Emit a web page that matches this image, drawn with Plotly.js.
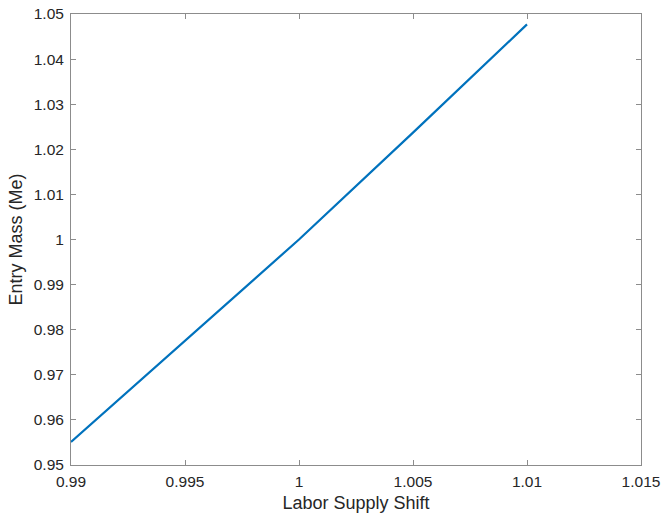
<!DOCTYPE html>
<html><head><meta charset="utf-8">
<script src="https://cdn.plot.ly/plotly-3.0.1.min.js"></script>
<style>html,body{margin:0;padding:0;background:#fff}</style>
</head><body>
<div id="chart" style="width:665px;height:514px"></div>
<script>
const laborShift = [0.99, 0.995, 1.0, 1.005, 1.01];
const entryMass = [0.9551, 0.9775, 1.0, 1.0237, 1.0477];
const xTicks = [0.99, 0.995, 1, 1.005, 1.01, 1.015];
const xTickText = ['0.99', '0.995', '1', '1.005', '1.01', '1.015'];
const yTicks = [0.95, 0.96, 0.97, 0.98, 0.99, 1, 1.01, 1.02, 1.03, 1.04, 1.05];
const yTickText = ['0.95', '0.96', '0.97', '0.98', '0.99', '1', '1.01', '1.02', '1.03', '1.04', '1.05'];

const font = 'Liberation Sans, Arial, Helvetica, sans-serif';
const axisCommon = {
  showline: true, linecolor: '#8c8c8c', linewidth: 1, mirror: 'ticks',
  ticks: 'inside', ticklen: 5, tickcolor: '#8c8c8c', tickwidth: 1,
  showgrid: false, zeroline: false,
  tickfont: {family: font, size: 15.5, color: '#262626'}
};
Plotly.newPlot('chart', [{
  x: laborShift, y: entryMass, type: 'scatter', mode: 'lines',
  line: {color: '#0072BD', width: 2.2}
}], {
  width: 665, height: 514,
  margin: {l: 71, r: 24, t: 14, b: 49},
  paper_bgcolor: '#fff', plot_bgcolor: '#fff',
  showlegend: false,
  xaxis: Object.assign({}, axisCommon, {
    range: [0.99, 1.015], tickvals: xTicks, ticktext: xTickText,
    ticklabelstandoff: 2,
    title: {text: 'Labor Supply Shift', font: {family: font, size: 18, color: '#262626'}, standoff: 7}
  }),
  yaxis: Object.assign({}, axisCommon, {
    range: [0.95, 1.05], tickvals: yTicks, ticktext: yTickText,
    ticklabelstandoff: 3,
    title: {text: 'Entry Mass (Me)', font: {family: font, size: 18, color: '#262626'}, standoff: 6}
  })
}, {displayModeBar: false, staticPlot: true});
</script>
</body></html>
